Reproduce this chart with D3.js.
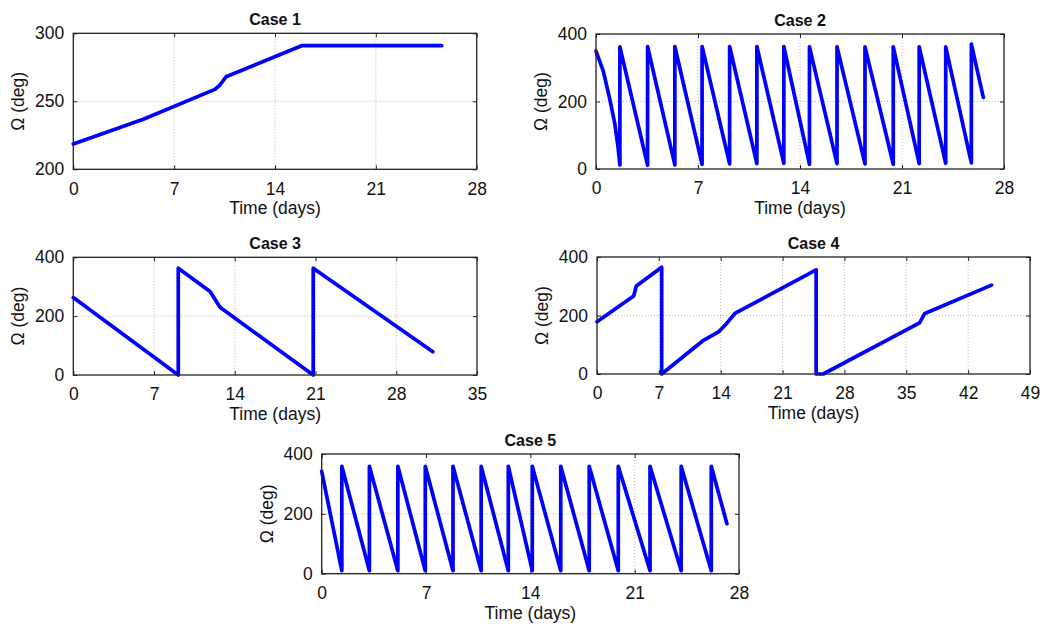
<!DOCTYPE html>
<html lang="en">

<head>
  <meta charset="UTF-8">
  <title>RAAN history, cases 1-5</title>
  <style>
    body {
      margin: 0;
      background: #fff;
    }

    svg text {
      font-family: "Liberation Sans", Arial, sans-serif;
      fill: #111;
    }

    .grid-line {
      stroke: #b8b8b8;
      stroke-width: 1;
      stroke-dasharray: 1 2;
    }

    .frame {
      fill: none;
      stroke: #222;
      stroke-width: 1.3;
    }

    .axis path {
      display: none;
    }

    .axis line {
      stroke: #222;
    }

    .data-line {
      fill: none;
      stroke: #0000ff;
      stroke-width: 3.7;
      stroke-linejoin: round;
      stroke-linecap: round;
    }
  </style>
  <script src="https://cdn.jsdelivr.net/npm/d3@7"></script>
</head>

<body>
  <div id="wrapper"></div>
  <script>
    // values (time in days, Omega in deg)
    const case1Days = [0, 4.86, 9.83, 10.18, 10.6, 15.85, 25.57];
    const case1Omega = [218.6, 236.8, 258.8, 262, 268, 290.9, 290.9];

    const case2Days = [0, 0.5, 0.96, 1.3, 1.5, 1.64, 1.64, 3.54, 3.54, 5.41, 5.41, 7.28, 7.28, 9.17, 9.17,
      11.04, 11.04, 12.89, 12.89, 14.65, 14.65, 16.54, 16.54, 18.46, 18.46, 20.4, 20.4,
      22.18, 22.18, 24.0, 24.0, 25.76, 25.76, 26.58];
    const case2Omega = [349, 290, 204, 132, 70, 12, 362, 11, 363, 12, 363, 14, 363, 15, 363,
      16, 363, 17, 363, 14, 362, 16, 362, 15, 362, 14, 362,
      16, 362, 17, 362, 18, 370, 212];

    const case3Days = [0, 9.1, 9.1, 11.86, 12.72, 20.8, 20.8, 31.17];
    const case3Omega = [263, 0, 363, 284, 230, 0, 363, 79];

    const case4Days = [0, 4.15, 4.45, 7.32, 7.32, 11.95, 13.8, 14.67, 15.6, 24.8, 24.8, 25.6, 36.5, 37.1, 44.65];
    const case4Omega = [179, 267, 301, 365, 0, 113, 145, 173, 207, 356, 0, 0, 175, 207, 304];

    const case5Days = [0, 1.35, 1.35, 3.2, 3.2, 5.11, 5.11, 6.95, 6.95, 8.81, 8.81, 10.7, 10.7,
      12.52, 12.52, 14.13, 14.13, 16.04, 16.04, 17.95, 17.95, 19.9, 19.9, 22.03, 22.03,
      24.12, 24.12, 26.14, 26.14, 27.19];
    const case5Omega = [342, 10, 359, 10, 359, 10, 359, 10, 359, 10, 359, 10, 359,
      10, 359, 10, 359, 10, 359, 10, 359, 10, 359, 10, 359,
      10, 359, 10, 359, 167];

    // tick labels
    const ticks28 = [0, 7, 14, 21, 28];
    const ticks35 = [0, 7, 14, 21, 28, 35];
    const ticks49 = [0, 7, 14, 21, 28, 35, 42, 49];
    const ticks200to300 = [200, 250, 300];
    const ticks0to400 = [0, 200, 400];

    const titles = ["Case 1", "Case 2", "Case 3", "Case 4", "Case 5"];
    const xLabel = "Time (days)";
    const yLabel = "\u03A9 (deg)";

    // panel boxes in page pixels
    const panels = [
      { title: titles[0], days: case1Days, omega: case1Omega, xTicks: ticks28, yTicks: ticks200to300, left: 73.3, right: 476.7, top: 33.3, bottom: 169.3 },
      { title: titles[1], days: case2Days, omega: case2Omega, xTicks: ticks28, yTicks: ticks0to400, left: 596, right: 1004, top: 34, bottom: 169 },
      { title: titles[2], days: case3Days, omega: case3Omega, xTicks: ticks35, yTicks: ticks0to400, left: 73.3, right: 477, top: 257.3, bottom: 375 },
      { title: titles[3], days: case4Days, omega: case4Omega, xTicks: ticks49, yTicks: ticks0to400, left: 597, right: 1030, top: 257, bottom: 374 },
      { title: titles[4], days: case5Days, omega: case5Omega, xTicks: ticks28, yTicks: ticks0to400, left: 321.7, right: 739, top: 454, bottom: 573.7 },
    ];

    const svg = d3.select("#wrapper")
      .append("svg")
      .attr("width", 1045)
      .attr("height", 624);

    function drawPanel(p) {
      const width = p.right - p.left;
      const height = p.bottom - p.top;
      const points = p.days.map((d, i) => [d, p.omega[i]]);

      const bounds = svg.append("g")
        .attr("transform", `translate(${p.left}, ${p.top})`);

      const xScale = d3.scaleLinear()
        .domain(d3.extent(p.xTicks))
        .range([0, width]);

      const yScale = d3.scaleLinear()
        .domain(d3.extent(p.yTicks))
        .range([height, 0]);

      // grid
      bounds.append("g")
        .selectAll("line")
        .data(p.xTicks.slice(1, -1))
        .join("line")
        .attr("class", "grid-line")
        .attr("x1", d => xScale(d))
        .attr("x2", d => xScale(d))
        .attr("y1", 0)
        .attr("y2", height);

      bounds.append("g")
        .selectAll("line")
        .data(p.yTicks.slice(1, -1))
        .join("line")
        .attr("class", "grid-line")
        .attr("x1", 0)
        .attr("x2", width)
        .attr("y1", d => yScale(d))
        .attr("y2", d => yScale(d));

      // axes, ticks pointing inward
      const xAxis = bounds.append("g")
        .attr("class", "axis")
        .attr("transform", `translate(0, ${height})`)
        .call(d3.axisBottom(xScale).tickValues(p.xTicks).tickSizeInner(-4).tickSizeOuter(0).tickPadding(13));
      xAxis.selectAll("text").style("font-size", "17.5px").attr("fill", "#111");

      bounds.append("g")
        .attr("class", "axis")
        .call(d3.axisTop(xScale).tickValues(p.xTicks).tickSizeInner(-4).tickSizeOuter(0).tickFormat(""));

      const yAxis = bounds.append("g")
        .attr("class", "axis")
        .call(d3.axisLeft(yScale).tickValues(p.yTicks).tickSizeInner(-4).tickSizeOuter(0).tickPadding(9));
      yAxis.selectAll("text").style("font-size", "17.5px").attr("fill", "#111");

      bounds.append("g")
        .attr("class", "axis")
        .attr("transform", `translate(${width}, 0)`)
        .call(d3.axisRight(yScale).tickValues(p.yTicks).tickSizeInner(-4).tickSizeOuter(0).tickFormat(""));

      // data
      const lineGenerator = d3.line()
        .x(d => xScale(d[0]))
        .y(d => yScale(d[1]));

      bounds.append("path")
        .attr("class", "data-line")
        .attr("d", lineGenerator(points));

      bounds.append("rect")
        .attr("class", "frame")
        .attr("width", width)
        .attr("height", height);

      // labels
      bounds.append("text")
        .attr("x", width / 2)
        .attr("y", -8)
        .attr("text-anchor", "middle")
        .style("font-size", "16px")
        .style("font-weight", "bold")
        .text(p.title);

      bounds.append("text")
        .attr("x", width / 2)
        .attr("y", height + 45)
        .attr("text-anchor", "middle")
        .style("font-size", "17.5px")
        .text(xLabel);

      bounds.append("text")
        .attr("transform", `translate(-49, ${height / 2}) rotate(-90)`)
        .attr("text-anchor", "middle")
        .style("font-size", "17.5px")
        .text(yLabel);
    }

    panels.forEach(drawPanel);
  </script>
</body>

</html>
